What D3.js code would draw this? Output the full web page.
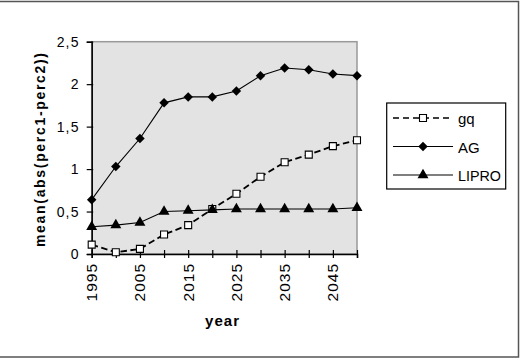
<!DOCTYPE html>
<html>
<head>
<meta charset="utf-8">
<script src="https://cdn.jsdelivr.net/npm/d3@7"></script>
<style>
  body { margin: 0; background: #fff; }
  text { font-family: "Liberation Sans", Arial, sans-serif; fill: #000; }
</style>
</head>
<body>
<svg id="chart" width="523" height="360"></svg>
<script>
/* ---------- dados ---------- */
const years = [1995, 2000, 2005, 2010, 2015, 2020, 2025, 2030, 2035, 2040, 2045, 2050];
const gq    = [0.11, 0.02, 0.06, 0.23, 0.34, 0.53, 0.71, 0.91, 1.08, 1.17, 1.27, 1.34];
const ag    = [0.64, 1.03, 1.36, 1.78, 1.85, 1.85, 1.92, 2.10, 2.19, 2.17, 2.12, 2.10];
const lipro = [0.32, 0.34, 0.37, 0.50, 0.51, 0.52, 0.53, 0.53, 0.53, 0.53, 0.53, 0.545];
const yTicks = [0, 0.5, 1, 1.5, 2, 2.5];
const xLabels = [1995, 2005, 2015, 2025, 2035, 2045];
const seriesNames = ['gq', 'AG', 'LIPRO'];

/* ---------- layout ---------- */
const svg = d3.select('#chart');
const plot = { x0: 91.7, x1: 357, y0: 41.7, y1: 254 };

const x = d3.scaleLinear().domain([1995, 2050]).range([plot.x0, plot.x1]);
const y = d3.scaleLinear().domain([0, 2.5]).range([plot.y1, plot.y0]);
const fmt = d => String(d).replace('.', ',');

// moldura externa
svg.append('rect')
  .attr('x', -1).attr('y', 1.5).attr('width', 519.5).attr('height', 355.5)
  .attr('fill', 'none').attr('stroke', '#555').attr('stroke-width', 1.5);

// área do gráfico
svg.append('rect')
  .attr('x', plot.x0).attr('y', plot.y0)
  .attr('width', plot.x1 - plot.x0).attr('height', plot.y1 - plot.y0)
  .attr('fill', '#e3e3e3').attr('stroke', '#999').attr('stroke-width', 1.5);

/* ---------- eixos ---------- */
const yAxis = svg.append('g').attr('transform', `translate(${plot.x0},0)`)
  .call(d3.axisLeft(y).tickValues(yTicks).tickFormat(fmt).tickSize(5).tickPadding(7));
yAxis.select('.domain').attr('stroke', '#000').attr('stroke-width', 1.5);
yAxis.selectAll('.tick line').attr('stroke-width', 1.2).attr('x2', 1.5).attr('x1', -5);
yAxis.selectAll('.tick text')
  .style('font-family', '"Liberation Sans", Arial, sans-serif')
  .style('font-size', '14px').style('letter-spacing', '1.2px');

const xAxis = svg.append('g').attr('transform', `translate(0,${plot.y1})`)
  .call(d3.axisBottom(x).tickValues(years).tickFormat('').tickSize(4));
xAxis.select('.domain').attr('stroke', '#000').attr('stroke-width', 1.5);
xAxis.selectAll('.tick line').attr('y1', -4).attr('y2', 4).attr('stroke-width', 1.2);

svg.append('g').selectAll('text')
  .data(xLabels).enter()
  .append('text')
  .attr('transform', d => `translate(${x(d) + 5.5},263) rotate(-90)`)
  .attr('text-anchor', 'end')
  .style('font-size', '15.5px').style('letter-spacing', '1px')
  .text(d => d);

// títulos dos eixos
svg.append('text')
  .attr('x', 222).attr('y', 326)
  .attr('text-anchor', 'middle')
  .style('font-size', '15px').style('font-weight', 'bold')
  .attr('textLength', 34).attr('lengthAdjust', 'spacing')
  .text('year');

svg.append('text')
  .attr('transform', 'translate(44.5,150) rotate(-90)')
  .attr('text-anchor', 'middle')
  .style('font-size', '14px').style('font-weight', 'bold')
  .attr('textLength', 194).attr('lengthAdjust', 'spacing')
  .text('mean(abs(perc1-perc2))');

/* ---------- séries ---------- */
const line = d3.line().x((d, i) => x(years[i])).y(d => y(d));
const square = { draw(ctx, size) { const r = Math.sqrt(size) / 2;
  ctx.moveTo(0, -r); ctx.lineTo(r, 0); ctx.lineTo(0, r); ctx.lineTo(-r, 0); ctx.closePath(); } };
const sqSym  = d3.symbol().type(d3.symbolSquare).size(49);
const diaSym = d3.symbol().type(square).size(90);
const triSym = d3.symbol().type(d3.symbolTriangle).size(52);

const series = [
  { name: seriesNames[0], vals: gq,    dash: '6.5,3.5', width: 1.8, sym: sqSym,  fill: '#fff', sw: 1.1 },
  { name: seriesNames[1], vals: ag,    dash: null,      width: 1.1, sym: diaSym, fill: '#000', sw: 0 },
  { name: seriesNames[2], vals: lipro, dash: null,      width: 1.1, sym: triSym, fill: '#000', sw: 0 }
];

const markG = svg.append('g');
series.forEach(s => {
  markG.append('path')
    .attr('d', line(s.vals))
    .attr('fill', 'none').attr('stroke', '#000')
    .attr('stroke-width', s.width)
    .attr('stroke-dasharray', s.dash);
});
series.forEach(s => {
  markG.selectAll(null)
    .data(s.vals).enter()
    .append('path')
    .attr('d', s.sym)
    .attr('transform', (d, i) => `translate(${x(years[i])},${y(d)})`)
    .attr('fill', s.fill).attr('stroke', '#000').attr('stroke-width', s.sw);
});

/* ---------- legenda ---------- */
const leg = svg.append('g');
leg.append('rect')
  .attr('x', 386.7).attr('y', 103).attr('width', 119).attr('height', 86)
  .attr('fill', '#fff').attr('stroke', '#000').attr('stroke-width', 1.2);

series.forEach((s, i) => {
  const ly = 118 + i * 28.5;
  leg.append('line')
    .attr('x1', 393).attr('x2', 453).attr('y1', ly).attr('y2', ly)
    .attr('stroke', '#000').attr('stroke-width', s.dash ? 1.3 : 1.1)
    .attr('stroke-dasharray', s.dash ? '6,4' : null);
  leg.append('path')
    .attr('d', s.sym)
    .attr('transform', `translate(423,${ly})`)
    .attr('fill', s.fill).attr('stroke', '#000').attr('stroke-width', s.sw);
  leg.append('text')
    .attr('x', 458).attr('y', ly + 6)
    .style('font-size', '15px')
    .attr('textLength', s.name === 'LIPRO' ? 43 : null)
    .attr('lengthAdjust', 'spacingAndGlyphs')
    .text(s.name);
});
</script>
</body>
</html>
